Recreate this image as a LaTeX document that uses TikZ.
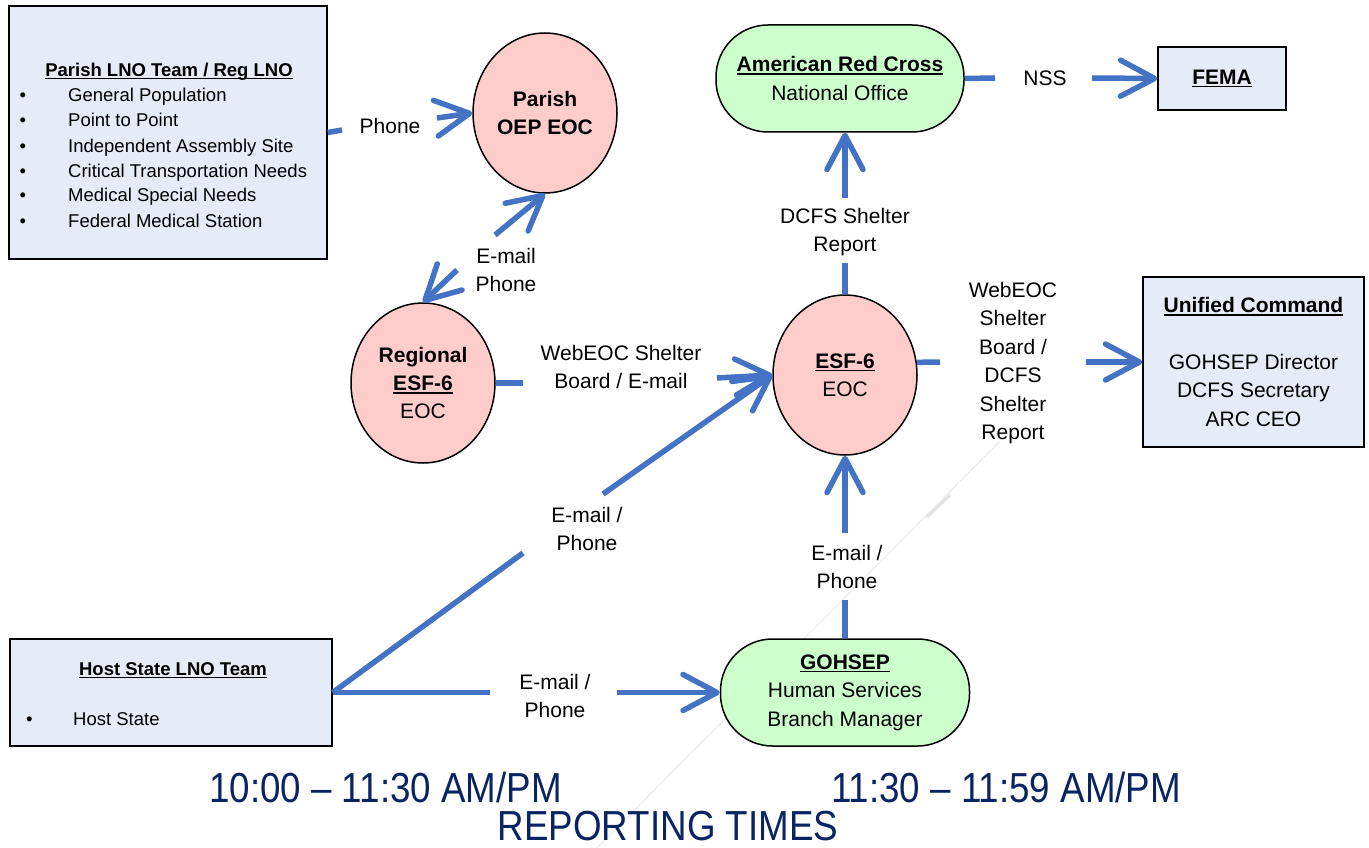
\documentclass[tikz,border=0pt]{standalone}
\usepackage{fontspec}
\setmainfont{Liberation Sans}
\usetikzlibrary{arrows.meta,shapes.geometric,calc}
\definecolor{arrblue}{HTML}{4472C4}
\definecolor{boxblue}{HTML}{E6ECF7}
\definecolor{pinkfill}{HTML}{FFCCCC}
\definecolor{greenfill}{HTML}{CCFFCC}
\definecolor{navy}{HTML}{0A2463}
\newsavebox{\ulbox}
\newcommand{\ulx}[1]{\sbox{\ulbox}{#1}\rlap{\rule[-0.15em]{\wd\ulbox}{0.075em}}\usebox{\ulbox}}
\begin{document}
\begin{tikzpicture}[x=1pt,y=-1pt,
  conn/.style={draw=arrblue, line width=5.5pt},
  arr/.style={conn, -{Straight Barb[length=34pt,width=36pt,round]}},
  mainfont/.style={font=\fontsize{21}{28.4}\selectfont},
  oval/.style={ellipse, draw=black, line width=1.5pt, fill=pinkfill, minimum width=144pt, minimum height=160pt, inner sep=0pt, align=center, mainfont},
  pill/.style={rectangle, rounded corners=52pt, draw=black, line width=1.5pt, fill=greenfill, minimum width=248pt, minimum height=107pt, inner sep=0pt, align=center, mainfont},
  sqbox/.style={rectangle, draw=black, line width=1.5pt, fill=boxblue, inner sep=0pt, align=center, mainfont},
  lbl/.style={align=center, mainfont, inner sep=0pt},
  listtxt/.style={anchor=base west, font=\fontsize{18.5}{25}\selectfont, inner sep=0pt},
  listtitle/.style={anchor=base, font=\fontsize{18.5}{25}\selectfont\bfseries, inner sep=0pt},
  timetxt/.style={text=navy, font=\fontsize{42}{42}\selectfont, inner sep=0pt, anchor=base}]
\useasboundingbox[fill=white] (0,0) rectangle (1369,848);

% faint background line
\draw[gray!18, line width=0.8pt] (1000,441) -- (597,848);
\draw[gray!22, line width=3pt] (927,517) -- (950,495);

% boxes
\node[sqbox, minimum width=318pt, minimum height=253pt] (plno) at (168,132.5) {};
\node[listtitle] (plnot) at (169,76.7) {\ulx{Parish LNO Team / Reg LNO}};
\node[listtxt] (b1) at (19.5,102) {•};
\node[listtxt] (i1) at (68,102) {General Population};
\node[listtxt] (b2) at (19.5,127) {•};
\node[listtxt] (i2) at (68,127) {Point to Point};
\node[listtxt] (b3) at (19.5,152.5) {•};
\node[listtxt] (i3) at (68,152.5) {Independent Assembly Site};
\node[listtxt] (b4) at (19.5,177.5) {•};
\node[listtxt] (i4) at (68,177.5) {Critical Transportation Needs};
\node[listtxt] (b5) at (19.5,202) {•};
\node[listtxt] (i5) at (68,202) {Medical Special Needs};
\node[listtxt] (b6) at (19.5,227) {•};
\node[listtxt] (i6) at (68,227) {Federal Medical Station};

\node[sqbox, minimum width=322pt, minimum height=107pt] (host) at (171,692.5) {};
\node[listtitle] (hostt) at (173,675.5) {\ulx{Host State LNO Team}};
\node[listtxt] (hb) at (26,725.5) {•};
\node[listtxt] (hi) at (73,725.5) {Host State};

\node[oval] (poep) at (545,113) {\textbf{Parish}\\\textbf{OEP EOC}};
\node[oval] (reg) at (423,383) {\textbf{Regional}\\\textbf{\ulx{ESF-6}}\\EOC};
\node[oval] (esf) at (845,375) {\textbf{\ulx{ESF-6}}\\EOC};

\node[pill] (arc) at (840,78.5) {\textbf{\ulx{American Red Cross}}\\National Office};
\node[pill, minimum width=249pt] (goh) at (845,692.5) {\textbf{\ulx{GOHSEP}}\\Human Services\\Branch Manager};

\node[sqbox, minimum width=128pt, minimum height=63pt] (fema) at (1222,78.5) {\textbf{\ulx{FEMA}}};
\node[sqbox, minimum width=221pt, minimum height=170pt] (uc) at (1253.5,362) {\textbf{\ulx{Unified Command}}\\[28.4pt]GOHSEP Director\\DCFS Secretary\\ARC CEO};

% labels
\node[lbl] (lphone) at (390,126) {Phone};
\node[lbl] (lemp) at (506,270) {E-mail\\Phone};
\node[lbl] (lweb1) at (621,367) {WebEOC Shelter\\Board / E-mail};
\node[lbl] (lhe) at (587,529) {E-mail /\\Phone};
\node[lbl] (lhg) at (555,696) {E-mail /\\Phone};
\node[lbl] (lge) at (847,567) {E-mail /\\Phone};
\node[lbl] (ldcfs) at (845,232) {DCFS Shelter\\Report};
\node[lbl] (lweb2) at (1013,363) {WebEOC\\Shelter\\Board /\\DCFS\\Shelter\\Report};
\node[lbl] (lnss) at (1045,78) {NSS};

% connectors
\coordinate (g1a) at (342,130); \coordinate (g1b) at (437,118);
\draw[conn] (plno.east) -- (g1a);
\draw[arr] (g1b) -- (poep.west);

\coordinate (g2a) at (495,235); \coordinate (g2b) at (457,270);
\draw[arr] (g2a) -- (poep.south);
\draw[arr] (g2b) -- (reg.north);

\coordinate (g3a) at (523,383); \coordinate (g3b) at (717,378);
\draw[conn] (reg.east) -- (g3a);
\draw[arr] (g3b) -- (esf.west);

\coordinate (g4a) at (523,553); \coordinate (g4b) at (603,494);
\draw[conn] (host.east) -- (g4a);
\draw[arr] (g4b) -- (esf.west);

\coordinate (g5a) at (490,692.5); \coordinate (g5b) at (617,692.5);
\draw[conn] (host.east) -- (g5a);
\draw[arr] (g5b) -- (goh.west);

\coordinate (g6a) at (845,600); \coordinate (g6b) at (845,533);
\draw[conn] (goh.north) -- (g6a);
\draw[arr] (g6b) -- (esf.south);

\coordinate (g7a) at (845,263); \coordinate (g7b) at (845,198);
\draw[conn] (esf.north) -- (g7a);
\draw[arr] (g7b) -- (g7b |- arc.south);

\coordinate (g8a) at (940,362); \coordinate (g8b) at (1086,362);
\draw[conn] (esf.10) -- (g8a);
\draw[arr] (g8b) -- (uc.west);

\coordinate (g9a) at (995,78); \coordinate (g9b) at (1092,78);
\draw[conn] (arc.east) -- (g9a);
\draw[arr] (g9b) -- (fema.west);

% reporting times
\node[timetxt] (t1) at (385.5,802) {\scalebox{0.875}[1]{10:00 – 11:30 AM/PM}};
\node[timetxt] (t2) at (1006,802) {\scalebox{0.875}[1]{11:30 – 11:59 AM/PM}};
\node[timetxt] (t3) at (668,840) {\scalebox{0.875}[1]{REPORTING TIMES}};
\end{tikzpicture}
\end{document}
